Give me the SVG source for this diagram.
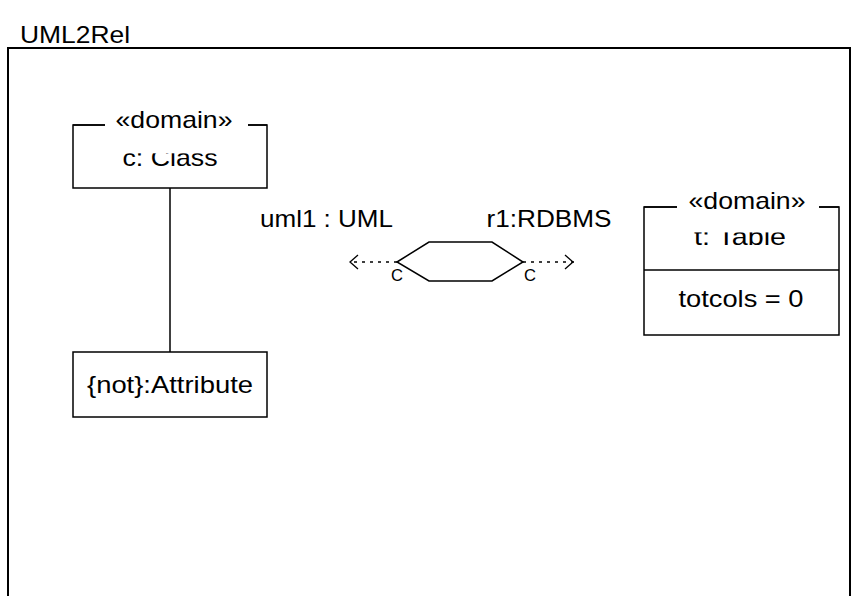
<svg xmlns="http://www.w3.org/2000/svg" width="852" height="596" viewBox="0 0 852 596">
<style>
text{font-family:"Liberation Sans",Arial,sans-serif;fill:#000}
.t{font-size:24px}
.s{font-size:16px}
.box{fill:#fff;stroke:#000;stroke-width:1.5}
.ln{fill:none;stroke:#000;stroke-width:1.5}
.dot{fill:none;stroke:#000;stroke-width:1.3;stroke-dasharray:3 5}
.mask{fill:#fff;stroke:none}
</style>
<defs>
<marker id="open" viewBox="0 0 10 16" refX="10" refY="8" markerWidth="10" markerHeight="16" markerUnits="userSpaceOnUse" orient="auto">
<path d="M1,1 L9,8 L1,15" fill="none" stroke="#000" stroke-width="1.3"/>
</marker>
</defs>
<rect width="852" height="596" fill="#fff"/>
<g id="frame">
<rect x="8" y="48" width="842" height="600" fill="none" stroke="#000" stroke-width="2"/>
<text class="t" x="20" y="43" textLength="110" lengthAdjust="spacingAndGlyphs">UML2Rel</text>
</g>
<g id="connectors">
<line class="ln" x1="170" y1="188" x2="170" y2="352"/>
<line class="dot" x1="397" y1="262" x2="349" y2="262" marker-end="url(#open)"/>
<line class="dot" x1="523" y1="262" x2="574" y2="262" marker-end="url(#open)"/>
</g>
<g id="class-c">
<rect class="box" x="73" y="125" width="194" height="63"/>
<text class="t" x="170" y="166" text-anchor="middle" textLength="95" lengthAdjust="spacingAndGlyphs">c: Class</text>
<rect class="mask" x="105" y="106" width="143" height="47.3"/>
<text class="t" x="174" y="128" text-anchor="middle" textLength="117" lengthAdjust="spacingAndGlyphs">«domain»</text>
<line class="ln" x1="73" y1="125" x2="105" y2="125"/>
<line class="ln" x1="248" y1="125" x2="267" y2="125"/>
</g>
<g id="attribute">
<rect class="box" x="73" y="352" width="194" height="65"/>
<text class="t" x="170" y="393" text-anchor="middle" textLength="166" lengthAdjust="spacingAndGlyphs">{not}:Attribute</text>
</g>
<g id="relation">
<polygon class="ln" points="397,262 429,242 492,242 523,262 492,281 429,281"/>
<text class="s" x="397" y="281" text-anchor="middle" textLength="12" lengthAdjust="spacingAndGlyphs">C</text>
<text class="s" x="530" y="281" text-anchor="middle" textLength="12" lengthAdjust="spacingAndGlyphs">C</text>
<text class="t" x="326.5" y="227" text-anchor="middle" textLength="133" lengthAdjust="spacingAndGlyphs">uml1 : UML</text>
<text class="t" x="549" y="227" text-anchor="middle" textLength="125" lengthAdjust="spacingAndGlyphs">r1:RDBMS</text>
</g>
<g id="table-t">
<rect class="box" x="644" y="207" width="195" height="128"/>
<line class="ln" x1="644" y1="270" x2="839" y2="270"/>
<text class="t" x="740" y="245" text-anchor="middle" textLength="92" lengthAdjust="spacingAndGlyphs">t: Table</text>
<rect class="mask" x="677" y="186" width="142" height="46.4"/>
<text class="t" x="747" y="209" text-anchor="middle" textLength="117" lengthAdjust="spacingAndGlyphs">«domain»</text>
<line class="ln" x1="644" y1="207" x2="677" y2="207"/>
<line class="ln" x1="819" y1="207" x2="839" y2="207"/>
<text class="t" x="741" y="307" text-anchor="middle" textLength="125" lengthAdjust="spacingAndGlyphs">totcols = 0</text>
</g>
</svg>
